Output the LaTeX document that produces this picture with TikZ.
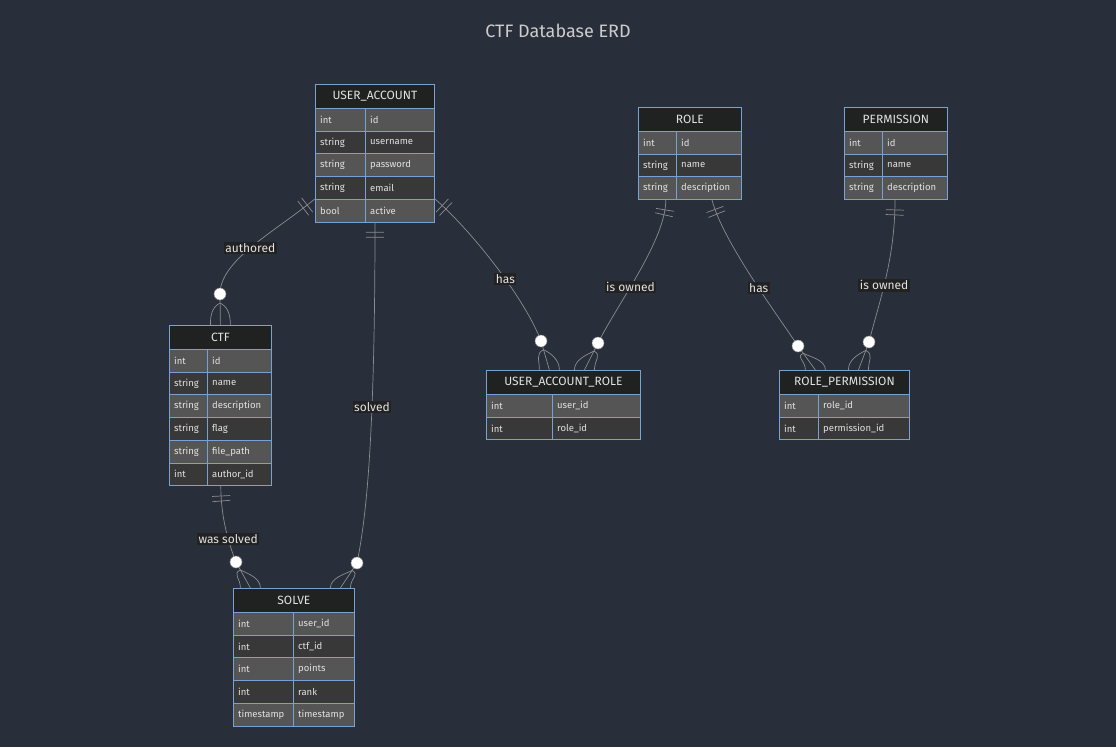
\documentclass[tikz,border=0pt]{standalone}
\usepackage{fontspec}
\setmainfont{Fira Sans}
\usetikzlibrary{positioning, calc, decorations.markings}
\definecolor{ERDBack}{RGB}{41,46,59}
\definecolor{ERDHead}{RGB}{32,33,33}
\definecolor{ERDRowA}{RGB}{85,85,85}
\definecolor{ERDRowB}{RGB}{56,56,56}
\definecolor{ERDEdge}{RGB}{118,162,212}
\definecolor{ERDLine}{RGB}{140,140,140}
\definecolor{ERDText}{RGB}{226,226,226}
\definecolor{ERDTitle}{RGB}{204,204,204}
\definecolor{ERDLabel}{RGB}{34,34,34}

\tikzset{
  ehead/.style={draw=ERDEdge, fill=ERDHead, line width=0.8pt, minimum height=24pt,
                inner sep=0pt, text=ERDText, font=\fontsize{12}{14}\selectfont},
  ecell/.style={draw=ERDEdge, line width=0.8pt, minimum height=22.7pt, inner sep=0pt},
  etext/.style={text=ERDText, font=\fontsize{9.5}{11}\selectfont, inner sep=0pt},
  rel/.style={draw=ERDLine, line width=0.7pt},
  onlyone/.style={postaction={decorate}, decoration={markings,
      mark=at position 10pt with {\draw[ERDLine, line width=0.7pt] (0,-9pt) -- (0,9pt);},
      mark=at position 15pt with {\draw[ERDLine, line width=0.7pt] (0,-9pt) -- (0,9pt);}}},
  rlabel/.style={fill=ERDLabel, text=ERDText, font=\fontsize{12}{14}\selectfont, inner sep=1.5pt},
  zcirc/.style={circle, fill=white, draw=ERDLine, line width=0.5pt,
                minimum size=12pt, inner sep=0pt}
}

% entity table: name, title, left x, top y, width, type column width, rows
\newcommand{\erdentity}[7]{%
  \node[ehead, minimum width=#5pt, anchor=north west] (#1) at (#3,#4) {#2};
  \foreach \ty/\nm [count=\i] in {#7} {
    \ifodd\i \def\rowcol{ERDRowA}\else \def\rowcol{ERDRowB}\fi
    \node[ecell, fill=\rowcol, minimum width=#6pt, anchor=north west]
      (#1-t\i) at (#3,{#4+24+(\i-1)*22.7}) {};
    \node[ecell, fill=\rowcol, minimum width=#5pt-#6pt, anchor=north west]
      (#1-n\i) at ({#3+#6},{#4+24+(\i-1)*22.7}) {};
    \node[etext, anchor=west] at ([xshift=5pt]#1-t\i.west) {\ty};
    \node[etext, anchor=west] at ([xshift=5pt]#1-n\i.west) {\nm};
  }
}

% zero-or-many end: circle, foot on the table edge
\newcommand{\zeromany}[2]{%
  \coordinate (tip) at ($(#1)!9pt!(#2)$);
  \draw[rel] (#1) -- (#2);
  \draw[rel] (tip) .. controls +(-8,4) and +(0,-10) .. ($(#2)+(-10,0)$);
  \draw[rel] (tip) .. controls +(8,4) and +(0,-10) .. ($(#2)+(10,0)$);
  \node[zcirc] at (#1) {};
}

\begin{document}
\begin{tikzpicture}[x=1pt, y=-1pt]
  \fill[ERDBack] (0,0) rectangle (1116,747);
  \useasboundingbox (0,0) rectangle (1116,747);

  \node[font=\fontsize{18}{21}\selectfont, text=ERDTitle] (title) at (558,31) {CTF Database ERD};

  \erdentity{ua}{USER\_ACCOUNT}{315}{84}{119}{50}
    {int/id, string/username, string/password, string/email, bool/active}
  \erdentity{role}{ROLE}{638}{107}{103}{38}
    {int/id, string/name, string/description}
  \erdentity{perm}{PERMISSION}{844}{107}{103}{38}
    {int/id, string/name, string/description}
  \erdentity{ctf}{CTF}{169}{325}{102}{38}
    {int/id, string/name, string/description, string/flag, string/file\_path, int/author\_id}
  \erdentity{solve}{SOLVE}{233}{588}{121}{60}
    {int/user\_id, int/ctf\_id, int/points, int/rank, timestamp/timestamp}
  \erdentity{uar}{USER\_ACCOUNT\_ROLE}{486}{370}{154}{66}
    {int/user\_id, int/role\_id}
  \erdentity{rp}{ROLE\_PERMISSION}{779}{370}{130}{39}
    {int/role\_id, int/permission\_id}

  % circles and feet of the many ends
  \coordinate (c-auth)  at (220,294);
  \coordinate (f-auth)  at (ctf.north);
  \coordinate (c-solv)  at (357,563);
  \coordinate (f-solv)  at ([xshift=46.5pt]solve.north);
  \coordinate (c-was)   at (236,562);
  \coordinate (f-was)   at ([xshift=-43.5pt]solve.north);
  \coordinate (c-uhas)  at (541,341);
  \coordinate (f-uhas)  at ([xshift=-14pt]uar.north);
  \coordinate (c-rown)  at (598,343);
  \coordinate (f-rown)  at ([xshift=21pt]uar.north);
  \coordinate (c-rhas)  at (798,346);
  \coordinate (f-rhas)  at ([xshift=-29pt]rp.north);
  \coordinate (c-pown)  at (869,342);
  \coordinate (f-pown)  at ([xshift=14pt]rp.north);

  \draw[rel, onlyone] (ua-t5.north west) .. controls +(-40,33) and +(0,-34) .. (c-auth)
    node[rlabel, pos=0.52] {authored};
  \draw[rel, onlyone] ([xshift=10pt]ua-n5.south west) .. controls +(0,230) and +(8,-40) .. (c-solv)
    node[rlabel, pos=0.34] {solved};
  \draw[rel, onlyone] (ua-n5.north east) .. controls +(40,35) and +(-15,-40) .. (c-uhas)
    node[rlabel, pos=0.57] {has};
  \draw[rel, onlyone] ([xshift=-11pt]role-t3.south east) .. controls +(0,40) and +(20,-40) .. (c-rown)
    node[rlabel, pos=0.6] {is owned};
  \draw[rel, onlyone] ([xshift=36pt]role-n3.south west) .. controls +(10,40) and +(-20,-30) .. (c-rhas)
    node[rlabel, pos=0.57] {has};
  \draw[rel, onlyone] ([xshift=13pt]perm-n3.south west) .. controls +(0,60) and +(10,-40) .. (c-pown)
    node[rlabel, pos=0.55] {is owned};
  \draw[rel, onlyone] ([xshift=13pt]ctf-t6.south east) .. controls +(0,30) and +(-8,-20) .. (c-was)
    node[rlabel, pos=0.65] {was solved};

  \zeromany{c-auth}{f-auth}
  \zeromany{c-solv}{f-solv}
  \zeromany{c-was}{f-was}
  \zeromany{c-uhas}{f-uhas}
  \zeromany{c-rown}{f-rown}
  \zeromany{c-rhas}{f-rhas}
  \zeromany{c-pown}{f-pown}
\end{tikzpicture}
\end{document}
